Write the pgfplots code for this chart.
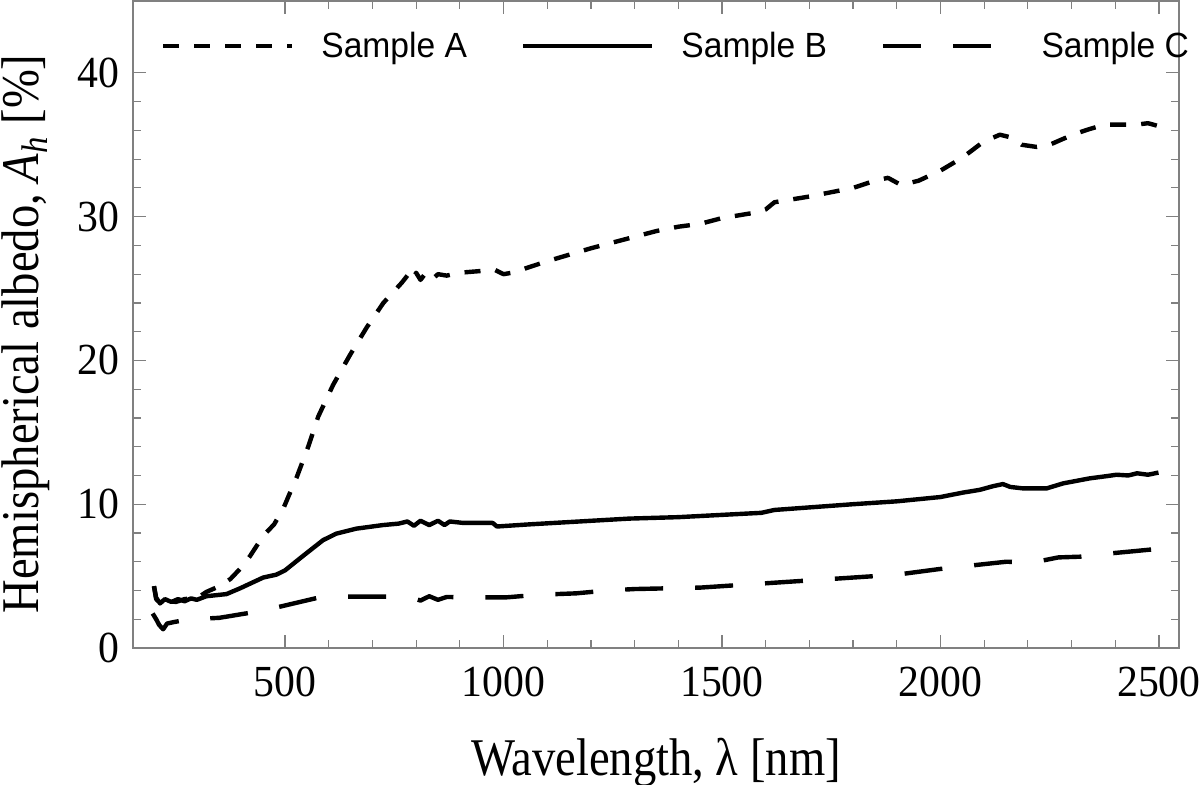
\documentclass[border=0pt]{standalone}
\usepackage{fontspec}
\setmainfont{Liberation Serif}[FakeStretch=0.88]
\newfontfamily\tickfont{Liberation Serif}[FakeStretch=0.94]
\newfontfamily\legfont{Liberation Sans}[FakeStretch=0.96]
\usepackage{pgfplots}
\pgfplotsset{compat=1.18}

\pgfplotstableread{
x y
200 4.3
205 3.4
215 3.1
230 3.3
250 3.2
270 3.4
300 3.5
320 3.9
350 4.3
375 4.8
400 5.6
420 6.4
450 7.8
475 8.6
496 9.7
510 10.7
527 11.9
553 14.0
576 16.1
610 18.3
649 20.4
687 22.3
725 24.0
767 25.4
780 25.9
790 25.5
800 26.1
810 25.6
820 26.0
835 25.6
850 26.0
870 25.9
900 26.1
940 26.2
980 26.3
1000 26.0
1020 26.1
1100 26.9
1200 27.8
1300 28.6
1350 29.0
1400 29.3
1450 29.5
1500 29.9
1580 30.3
1600 30.5
1620 31.0
1700 31.4
1800 32.0
1850 32.5
1880 32.7
1910 32.2
1950 32.5
2000 33.2
2050 34.1
2098 35.2
2136 35.7
2163 35.5
2186 35.0
2220 34.85
2250 35.0
2280 35.4
2312 35.8
2342 36.1
2376 36.4
2403 36.4
2449 36.4
2475 36.5
2499 36.3
}\sampleA

\pgfplotstableread{
x y
200 4.3
205 3.5
214 3.1
225 3.4
240 3.2
255 3.4
270 3.25
285 3.45
298 3.35
320 3.6
366 3.75
397 4.15
450 4.9
480 5.1
500 5.4
541 6.4
587 7.5
617 7.95
663 8.3
724 8.55
760 8.65
780 8.8
795 8.5
810 8.85
830 8.55
850 8.85
865 8.55
877 8.8
907 8.7
975 8.7
985 8.45
1060 8.6
1288 9.0
1400 9.1
1590 9.4
1620 9.6
1800 10.0
1900 10.2
2000 10.5
2050 10.8
2090 11.0
2120 11.25
2143 11.4
2160 11.2
2189 11.1
2243 11.1
2281 11.45
2342 11.8
2380 11.95
2403 12.05
2430 12.0
2450 12.15
2475 12.05
2499 12.2
}\sampleB

\pgfplotstableread{
x y
197 2.4
205 2.0
212 1.6
221 1.3
230 1.7
245 1.8
282 2.0
300 1.9
320 2.05
350 2.1
420 2.45
492 2.9
576 3.5
646 3.57
732 3.57
790 3.5
810 3.3
830 3.6
850 3.35
870 3.55
922 3.52
1006 3.52
1078 3.7
1166 3.8
1238 4.0
1300 4.1
1450 4.2
1600 4.5
1700 4.7
1800 4.9
1900 5.1
2000 5.5
2090 5.8
2151 6.0
2212 5.95
2270 6.3
2319 6.35
2396 6.6
2449 6.75
2499 6.9
}\sampleC

\begin{document}
\begin{tikzpicture}
\begin{axis}[
  at={(0,0)}, anchor=south west,
  scale only axis, width=523pt, height=323.5pt,
  xmin=152, xmax=2546, ymin=0, ymax=45,
  xtick={500,1000,1500,2000,2500}, minor x tick num=4,
  ytick={0,10,20,30,40}, minor y tick num=4,
  tick align=inside, major tick length=6.3pt, minor tick length=3.85pt,
  axis line style={draw=black!50, line width=0.6pt},
  every tick/.style={black!50, line width=0.6pt},
  /pgf/number format/.cd, 1000 sep={}, assume math mode=true, /pgfplots/.cd,
  xticklabel style={font=\tickfont\fontsize{22.2}{22.2}\selectfont, anchor=base, inner sep=0pt, yshift=-24.5pt},
  yticklabel style={font=\tickfont\fontsize{22.2}{22.2}\selectfont, anchor=east, inner sep=0pt, xshift=-6.5pt},
  xlabel={Wavelength, λ [nm]},
  xlabel style={at={(axis description cs:0.5,-0.19784)}, anchor=base, inner sep=0pt, font=\fontsize{26.5}{26.5}\selectfont},
  ylabel={Hemispherical albedo, \textit{A}\textsubscript{\textit{h}} [\%]},
  ylabel style={at={(axis description cs:-0.1024,0.4853)}, anchor=center, inner sep=0pt, font=\fontsize{26.5}{26.5}\selectfont},
  legend columns=3,
  legend image code/.code={\draw[#1] (0pt,0pt) -- (64.5pt,0pt);},
  legend style={at={(axis cs:216,41.86)}, anchor=west, draw=none, fill=none, inner sep=0pt, outer sep=0pt,
    font=\legfont\fontsize{17.5}{17.5}\selectfont, nodes={inner sep=0pt},
    /tikz/every odd column/.append style={column sep=13.5pt},
    /tikz/every even column/.append style={column sep=27pt}},
]
\addplot[black, line width=2.2pt, line join=round, dash pattern=on 8pt off 7.5pt] table[x=x,y=y] {\sampleA};
\addlegendentry{Sample A}
\addplot[black, line width=2.2pt, line join=round] table[x=x,y=y] {\sampleB};
\addlegendentry{Sample B}
\addplot[black, line width=2.2pt, line join=round, dash pattern=on 19pt off 16pt] table[x=x,y=y] {\sampleC};
\addlegendentry{Sample C}
\end{axis}
\pgfresetboundingbox
\useasboundingbox (-66.5pt,-68.5pt) rectangle (533.5pt,324pt);
\end{tikzpicture}
\end{document}
